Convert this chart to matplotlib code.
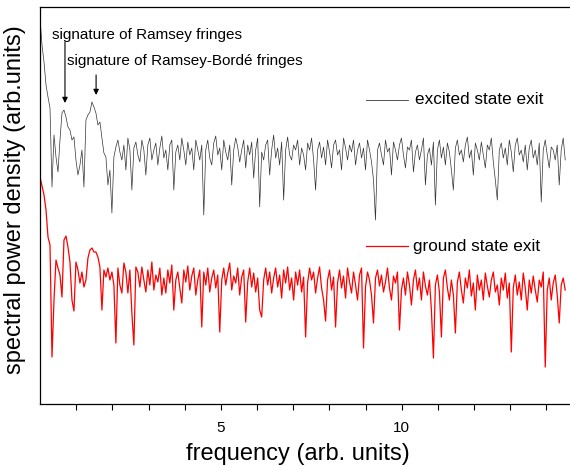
import numpy as np
import matplotlib
matplotlib.use("Agg")
import matplotlib.pyplot as plt
from matplotlib.lines import Line2D

plt.rcParams["font.family"] = ["Liberation Sans", "DejaVu Sans"]

# frequency grid step (arb. units)
DF = 0.0552

# spectral power density, arbitrary units
excited = [
    382, 355, 338, 315, 303, 292, 213, 265, 243, 228,
    260, 287, 290, 283, 273, 270, 260, 263, 240, 225,
    235, 250, 213, 280, 285, 288, 298, 293, 287, 275,
    278, 262, 247, 243, 215, 230, 187, 243, 253,
    260, 248, 240, 255, 230, 262, 250, 210, 252, 258,
    245, 238, 260, 250, 225, 255, 262, 240, 250, 257,
    235, 252, 264, 242, 250, 230, 255, 260, 210, 248,
    255, 240, 262, 250, 235, 258, 245, 252, 230, 260,
    250, 240, 255, 185, 250, 260, 242, 235, 257, 264,
    245, 252, 230, 260, 248, 240, 255, 215, 250, 262,
    253, 238, 250, 260, 232, 255, 245, 258, 222, 250,
    262, 193, 248, 240, 255, 260, 225, 250, 265, 242,
    252, 235, 258, 200, 250, 263, 245, 240, 255, 250,
    260, 235, 252, 245, 230, 257, 250, 262, 240, 210,
    250, 258, 242, 253, 235, 260, 248, 232, 255, 260,
    245, 250, 230, 262, 252, 240, 255, 248, 260, 235,
    250, 257, 242, 252, 230, 260, 250, 238, 220, 180,
    250, 257, 245, 235, 260, 248, 252, 225, 258, 250,
    240, 255, 262, 245, 232, 253, 250, 260, 228, 248,
    255, 240, 250, 262, 215, 245, 252, 235, 258, 195,
    250, 260, 242, 253, 235, 257, 248, 230, 210, 252,
    260, 245, 250, 238, 255, 263, 242, 250, 225, 257,
    250, 240, 258, 245, 232, 255, 250, 262, 238, 220,
    200, 250, 257, 242, 252, 235, 260, 248, 228, 255,
    262, 245, 250, 238, 255, 230, 252, 260, 242, 250,
    235, 257, 198, 250, 260, 245, 232, 253, 250, 240,
    255, 215, 250, 262, 240,
]

ground = [
    223, 214, 205, 190, 163, 155, 43, 100, 140, 132,
    125, 103, 160, 164, 153, 138, 100, 89, 138, 130,
    117, 128, 113, 120, 142, 150, 152, 148, 148, 143,
    133, 90, 130, 123, 132, 120, 128, 115, 57, 132,
    115, 107, 137, 128, 107, 130, 87, 55, 133, 128,
    113, 133, 120, 108, 130, 115, 138, 110, 125, 118,
    132, 105, 122, 107, 130, 117, 135, 90, 120, 128,
    112, 97, 130, 118, 134, 110, 124, 132, 105, 120,
    130, 73, 128, 115, 132, 108, 122, 130, 112, 125,
    68, 120, 132, 115, 127, 137, 110, 124, 117, 132,
    105, 123, 130, 78, 118, 132, 113, 127, 108, 122,
    90, 83, 120, 132, 115, 128, 107, 122, 132, 113,
    125, 102, 130, 117, 133, 110, 122, 100, 128, 115,
    130, 108, 123, 63, 117, 132, 120, 128, 107, 122,
    133, 112, 100, 79, 120, 130, 110, 123, 73, 117,
    130, 112, 124, 102, 132, 118, 107, 128, 115, 100,
    125, 132, 52, 113, 128, 120, 105, 77, 122, 130,
    114, 125, 108, 118, 132, 112, 100, 124, 117, 128,
    70, 110, 122, 105, 128, 115, 95, 120, 130, 110,
    122, 100, 128, 114, 105, 120, 90, 42, 115, 125,
    108, 63, 122, 130, 112, 100, 120, 105, 67, 118,
    128, 110, 97, 122, 112, 130, 104, 117, 90, 125,
    110, 120, 100, 127, 114, 103, 120, 128, 108, 115,
    95, 122, 110, 127, 102, 117, 48, 112, 125, 105,
    118, 100, 127, 112, 90, 120, 107, 124, 110, 98,
    120, 113, 128, 33, 110, 122, 100, 117, 125, 105,
    77, 115, 122, 110,
]

freq_ex = np.arange(len(excited)) * DF
freq_gr = np.arange(len(ground)) * DF

fig = plt.figure(figsize=(5.7, 4.66), dpi=100)
ax = fig.add_axes([0.0702, 0.133, 0.9298, 0.852])

ax.plot(freq_ex, excited, color="#333333", lw=0.5)
ax.plot(freq_gr, ground, color="red", lw=0.9)

ax.set_xlim(0, 14.65)
ax.set_ylim(-4, 393)
ax.set_yticks([])
ax.set_xticks([5, 10])
ax.set_xticks(range(1, 15), minor=True)
ax.tick_params(axis="x", which="both", direction="out", length=4, width=0.8,
               labelsize=11, pad=8)
ax.spines["right"].set_visible(False)
for s in ("left", "top", "bottom"):
    ax.spines[s].set_linewidth(0.9)

# legend-like labels
ax.add_line(Line2D([0.616, 0.695], [0.766, 0.766], transform=ax.transAxes, color="#333333", lw=0.6))
ax.text(0.708, 0.766, "excited state exit", transform=ax.transAxes, fontsize=12.3, va="center", ha="left")
ax.add_line(Line2D([0.616, 0.695], [0.398, 0.398], transform=ax.transAxes, color="red", lw=0.9))
ax.text(0.704, 0.398, "ground state exit", transform=ax.transAxes, fontsize=12.3, va="center", ha="left")

# annotations
arrow = dict(arrowstyle="-|>", color="black", lw=0.8, mutation_scale=8, shrinkA=0, shrinkB=0)
ax.text(0.33, 365, "signature of Ramsey fringes", fontsize=11, va="center", ha="left")
ax.annotate("", xy=(0.69, 297), xytext=(0.69, 358), arrowprops=arrow)
ax.text(0.74, 339, "signature of Ramsey-Bordé fringes", fontsize=11, va="center", ha="left")
ax.annotate("", xy=(1.55, 305), xytext=(1.55, 325), arrowprops=arrow)

fig.text(0.522, 0.013, "frequency (arb. units)", fontsize=17, ha="center", va="baseline")
fig.text(0.027, 0.571, "spectral power density (arb.units)", fontsize=17,
         rotation=90, ha="center", va="center")

fig.savefig("out.png", dpi=100)
